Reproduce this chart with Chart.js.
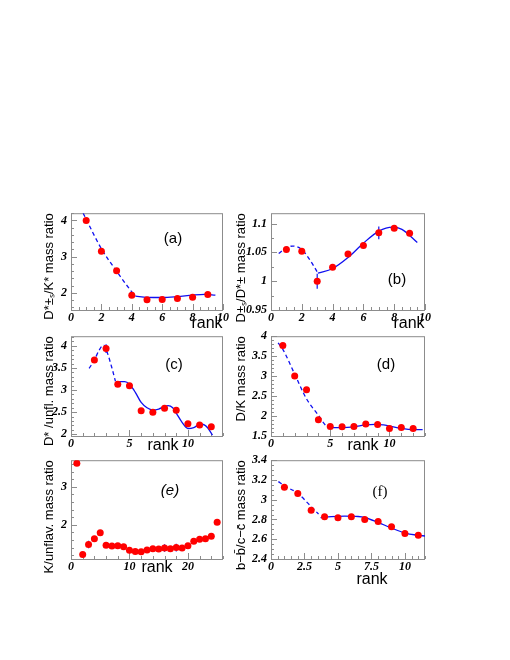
<!DOCTYPE html>
<html>
<head>
<meta charset="utf-8">
<script src="https://cdn.jsdelivr.net/npm/chart.js@4.4.0/dist/chart.umd.min.js"></script>
<style>
  body { margin: 0; background: #fff; }
  #page { position: relative; width: 510px; height: 660px; overflow: hidden; background: #fff; }
  .panel { position: absolute; }
</style>
</head>
<body>
<div id="page"></div>
<script>
// (a) Ds*/K* mass ratio
const rankA = [1, 2, 3, 4, 5, 6, 7, 8, 9];
const ratioA = [4.0, 3.15, 2.61, 1.94, 1.81, 1.82, 1.85, 1.88, 1.96];
const dashAX = [0.8, 1, 2, 3, 4, 4.25];
const dashAY = [4.2, 4.03, 3.22, 2.6, 2.03, 1.91];
const fitAX = [4.25, 5, 6, 7, 8, 8.8, 9.5];
const fitAY = [1.91, 1.88, 1.875, 1.9, 1.94, 1.96, 1.94];

// (b) Ds/D*
const rankB = [1, 2, 3, 4, 5, 6, 7, 8, 9];
const ratioB = [1.055, 1.052, 1.0, 1.024, 1.047, 1.062, 1.084, 1.092, 1.083];
const errRankB = [3, 7];
const errSizeB = [0.013, 0.011];
const dashBX = [0.5, 1, 1.4, 2, 2.5, 3.05];
const dashBY = [1.048, 1.058, 1.061, 1.055, 1.038, 1.014];
const fitBX = [3.05, 4, 5, 6, 7, 7.9, 8.5, 9.5];
const fitBY = [1.014, 1.022, 1.041, 1.066, 1.087, 1.094, 1.09, 1.067];

// (c) D*/unflavoured
const rankC = [2, 3, 4, 5, 6, 7, 8, 9, 10, 11, 12];
const ratioC = [3.68, 3.94, 3.13, 3.10, 2.53, 2.50, 2.59, 2.545, 2.24, 2.21, 2.17];
const errRankC = [3];
const errSizeC = [0.1];
const dashCX = [1.55, 2, 2.4, 2.8, 3.1, 3.5, 3.8];
const dashCY = [3.49, 3.68, 3.9, 4.02, 3.85, 3.5, 3.2];
const fitCX = [3.8, 4.2, 4.6, 5, 5.5, 6, 6.5, 7, 7.5, 8, 8.3, 8.7, 9, 9.5, 10, 10.5, 11, 11.3, 11.7, 12.1];
const fitCY = [3.16, 3.19, 3.19, 3.13, 2.95, 2.72, 2.6, 2.55, 2.57, 2.63, 2.65, 2.6, 2.48, 2.27, 2.13, 2.15, 2.22, 2.22, 2.14, 1.98];

// (d) D/K
const rankD = [1, 2, 3, 4, 5, 6, 7, 8, 9, 10, 11, 12];
const ratioD = [3.77, 3.0, 2.66, 1.91, 1.74, 1.73, 1.74, 1.80, 1.79, 1.69, 1.71, 1.69];
const dashDX = [0.6, 1, 2, 3, 4, 4.6, 5];
const dashDY = [3.83, 3.67, 3.05, 2.43, 2.02, 1.77, 1.71];
const fitDX = [5, 6, 7, 8, 8.8, 9.5, 10, 11, 12, 12.8];
const fitDY = [1.71, 1.71, 1.73, 1.78, 1.79, 1.78, 1.75, 1.69, 1.66, 1.66];

// (e) K/unflavoured
const rankE = [1, 2, 3, 4, 5, 6, 7, 8, 9, 10, 11, 12, 13, 14, 15, 16, 17, 18, 19, 20, 21, 22, 23, 24, 25];
const ratioE = [3.62, 1.22, 1.48, 1.63, 1.79, 1.46, 1.44, 1.45, 1.42, 1.33, 1.30, 1.29, 1.34,
                1.37, 1.36, 1.39, 1.37, 1.40, 1.39, 1.45, 1.57, 1.62, 1.63, 1.70, 2.07];
const errRankE = [3, 16, 18];
const errSizeE = [0.1, 0.1, 0.1];

// (f) b-bbar / c-cbar
const rankF = [1, 2, 3, 4, 5, 6, 7, 8, 9, 10, 11];
const ratioF = [3.127, 3.063, 2.893, 2.827, 2.817, 2.827, 2.80, 2.78, 2.727, 2.657, 2.64];
const dashFX = [0.55, 1, 2, 3, 3.55];
const dashFY = [3.183, 3.14, 3.065, 2.93, 2.855];
const fitFX = [3.7, 4.5, 5.5, 6.5, 7, 8, 9, 10, 11, 11.5];
const fitFY = [2.818, 2.828, 2.833, 2.83, 2.82, 2.77, 2.713, 2.663, 2.64, 2.633];

const RED = '#ff0000';
const BLUE = '#1010f0';

function xy(xs, ys) {
    return xs.map((x, i) => ({ x: x, y: ys[i] }));
}

function errBars(xs, ys, errRanks, errSizes) {
    const out = [];
    errRanks.forEach((r, i) => {
        const y = ys[xs.indexOf(r)];
        out.push({ x: r, y: y - errSizes[i] }, { x: r, y: y + errSizes[i] }, { x: r, y: null });
    });
    return out;
}

// plain number labels: 1.1, 1.05, 1 (no padded decimals)
const plainLabel = v => String(+(+v).toFixed(4));

// frame, inward ticks and text notes in ROOT style
const panelDeco = {
    id: 'panelDeco',
    beforeDatasetsDraw(chart, args, opts) {
        const { ctx, chartArea: a, scales } = chart;
        ctx.save();
        ctx.strokeStyle = '#8c8c8c';
        ctx.lineWidth = 1;
        ctx.strokeRect(a.left + 0.5, a.top + 0.5, a.right - a.left - 1, a.bottom - a.top);
        ctx.beginPath();
        const mark = (scale, major, minor, horiz) => {
            const k0 = Math.ceil(scale.min / minor - 1e-6);
            for (let k = k0; k * minor <= scale.max + 1e-9; k++) {
                const v = k * minor;
                const isMajor = Math.abs(v / major - Math.round(v / major)) < 1e-6;
                const len = isMajor ? 6 : 3;
                const p = Math.round(scale.getPixelForValue(v)) + 0.5;
                if (horiz) {
                    ctx.moveTo(p, a.bottom);
                    ctx.lineTo(p, a.bottom - len);
                } else {
                    ctx.moveTo(a.left, p);
                    ctx.lineTo(a.left + len, p);
                }
            }
        };
        mark(scales.x, opts.xMajor, opts.xMinor, true);
        mark(scales.y, opts.yMajor, opts.yMinor, false);
        ctx.stroke();
        ctx.restore();
    },
    afterDraw(chart, args, opts) {
        const { ctx, chartArea: a } = chart;
        ctx.save();
        ctx.fillStyle = '#000';
        ctx.textAlign = 'center';
        ctx.textBaseline = 'middle';
        opts.notes.forEach(n => {
            ctx.font = n.font;
            ctx.fillText(n.text, n.x - opts.frame.l + a.left, n.y - opts.frame.t + a.top);
        });
        ctx.restore();
    }
};

const tickFont = { family: 'Liberation Serif', size: 12, style: 'italic', weight: 'bold' };
const LABEL = '15px "Liberation Sans"';
const RANK = '16px "Liberation Sans"';

function makePanel(p) {
    const YW = p.yw, PT = 10, PR = 14, XH = 32;
    const w = YW + (p.frame.r - p.frame.l) + PR;
    const h = PT + (p.frame.b - p.frame.t) + XH;
    const div = document.createElement('div');
    div.className = 'panel';
    div.style.left = (p.frame.l - YW) + 'px';
    div.style.top = (p.frame.t - PT) + 'px';
    const canvas = document.createElement('canvas');
    canvas.width = w;
    canvas.height = h;
    div.appendChild(canvas);
    document.getElementById('page').appendChild(div);

    const datasets = [{
        type: 'scatter',
        data: xy(p.rank, p.ratio),
        backgroundColor: RED,
        borderWidth: 0,
        pointRadius: 3.5,
        order: 0
    }];
    if (p.dash) {
        datasets.push({
            type: 'line', data: xy(p.dash[0], p.dash[1]), borderColor: BLUE, borderWidth: 1.3,
            borderDash: [4, 3], pointRadius: 0, cubicInterpolationMode: 'monotone', fill: false, order: 1
        });
    }
    if (p.fit) {
        datasets.push({
            type: 'line', data: xy(p.fit[0], p.fit[1]), borderColor: BLUE, borderWidth: 1.3,
            pointRadius: 0, cubicInterpolationMode: 'monotone', fill: false, order: 1
        });
    }
    if (p.err) {
        datasets.push({
            type: 'line', data: errBars(p.rank, p.ratio, p.err[0], p.err[1]), borderColor: BLUE,
            borderWidth: 1.2, pointRadius: 0, spanGaps: false, tension: 0, order: 1
        });
    }

    new Chart(canvas, {
        data: { datasets: datasets },
        options: {
            responsive: false,
            animation: false,
            layout: { padding: { top: PT, right: PR, left: 0, bottom: 0 } },
            plugins: {
                legend: { display: false },
                tooltip: { enabled: false },
                panelDeco: {
                    frame: p.frame, notes: p.notes,
                    xMajor: p.x.step, xMinor: p.x.minor, yMajor: p.y.step, yMinor: p.y.minor
                }
            },
            scales: {
                x: {
                    type: 'linear', min: p.x.min, max: p.x.max,
                    afterFit: s => { s.height = XH; },
                    grid: { display: false, drawTicks: false },
                    border: { display: false },
                    ticks: {
                        stepSize: p.x.step, autoSkip: false, includeBounds: false, maxRotation: 0,
                        padding: 1, font: tickFont, color: '#000', callback: plainLabel
                    }
                },
                y: {
                    type: 'linear', min: p.y.min, max: p.y.max,
                    afterFit: s => { s.width = YW; },
                    grid: { display: false, drawTicks: false },
                    border: { display: false },
                    ticks: {
                        stepSize: p.y.step, autoSkip: false, includeBounds: false,
                        padding: 4, font: tickFont, color: '#000', callback: plainLabel
                    },
                    title: {
                        display: true, text: p.title, align: 'end', color: '#000',
                        font: { family: 'Liberation Sans', size: 13 },
                        padding: { top: 4, bottom: 0 }
                    }
                }
            }
        },
        plugins: [panelDeco]
    });
}

makePanel({
    frame: { l: 71, t: 212, r: 223, b: 310 }, yw: 33,
    rank: rankA, ratio: ratioA, dash: [dashAX, dashAY], fit: [fitAX, fitAY],
    x: { min: 0, max: 10, step: 2, minor: 0.5 },
    y: { min: 1.53, max: 4.2, step: 1, minor: 0.2 },
    title: 'D*±ₛ/K* mass ratio',
    notes: [{ text: '(a)', x: 173, y: 238, font: LABEL }, { text: 'rank', x: 207, y: 322, font: RANK }]
});

makePanel({
    frame: { l: 271, t: 212, r: 425, b: 310 }, yw: 41,
    rank: rankB, ratio: ratioB, dash: [dashBX, dashBY], fit: [fitBX, fitBY], err: [errRankB, errSizeB],
    x: { min: 0, max: 10, step: 2, minor: 0.5 },
    y: { min: 0.95, max: 1.118, step: 0.05, minor: 0.025 },
    title: 'D±ₛ/D*± mass ratio',
    notes: [{ text: '(b)', x: 397, y: 279, font: LABEL }, { text: 'rank', x: 409, y: 322, font: RANK }]
});

makePanel({
    frame: { l: 71, t: 335, r: 223, b: 436 }, yw: 33,
    rank: rankC, ratio: ratioC, dash: [dashCX, dashCY], fit: [fitCX, fitCY], err: [errRankC, errSizeC],
    x: { min: 0, max: 13, step: 5, minor: 1 },
    y: { min: 1.96, max: 4.22, step: 0.5, minor: 0.1 },
    title: 'D* /unfl. mass ratio',
    notes: [{ text: '(c)', x: 174, y: 364, font: LABEL }, { text: 'rank', x: 163, y: 444, font: RANK }]
});

makePanel({
    frame: { l: 271, t: 335, r: 425, b: 436 }, yw: 41,
    rank: rankD, ratio: ratioD, dash: [dashDX, dashDY], fit: [fitDX, fitDY],
    x: { min: 0, max: 13, step: 5, minor: 1 },
    y: { min: 1.5, max: 4.0, step: 0.5, minor: 0.1 },
    title: 'D/K mass ratio',
    notes: [{ text: '(d)', x: 386, y: 364, font: LABEL }, { text: 'rank', x: 363, y: 444, font: RANK }]
});

makePanel({
    frame: { l: 71, t: 459, r: 223, b: 559 }, yw: 33,
    rank: rankE, ratio: ratioE, err: [errRankE, errSizeE],
    x: { min: 0, max: 26, step: 10, minor: 2 },
    y: { min: 1.1, max: 3.7, step: 1, minor: 0.2 },
    title: 'K/unflav. mass ratio',
    notes: [{ text: '(e)', x: 170, y: 490, font: 'italic ' + LABEL }, { text: 'rank', x: 157, y: 566, font: RANK }]
});

makePanel({
    frame: { l: 271, t: 459, r: 425, b: 559 }, yw: 41,
    rank: rankF, ratio: ratioF, dash: [dashFX, dashFY], fit: [fitFX, fitFY],
    x: { min: 0, max: 11.5, step: 2.5, minor: 0.5 },
    y: { min: 2.4, max: 3.4, step: 0.2, minor: 0.05 },
    title: 'b−b̄/c−c̄ mass ratio',
    notes: [{ text: '(f)', x: 380, y: 491, font: '15px "Liberation Serif"' }, { text: 'rank', x: 372, y: 578, font: RANK }]
});
</script>
</body>
</html>
